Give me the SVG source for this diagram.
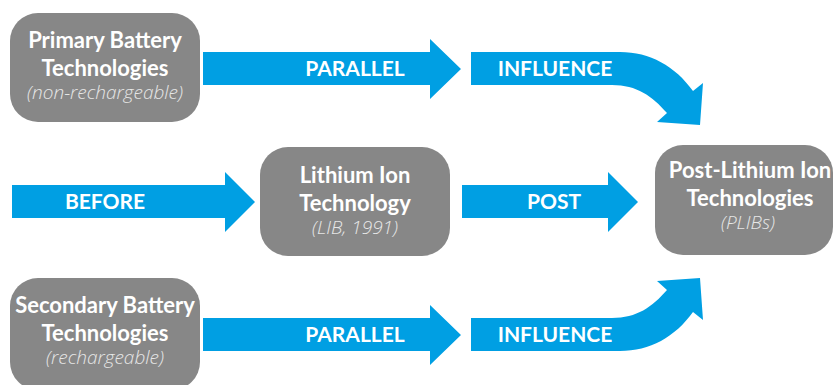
<svg xmlns="http://www.w3.org/2000/svg" width="835" height="385" viewBox="0 0 835 385">
  <style>
    .box { fill: #878787; }
    .arrow { fill: #009fe3; }
    .title { font-family: Lato, "Open Sans", sans-serif; font-weight: 700; font-size: 22px; fill: #ffffff; text-anchor: middle; }
    .sub { font-family: "Open Sans", Lato, sans-serif; font-weight: 300; font-style: italic; font-size: 19px; fill: #e6e6e6; text-anchor: middle; }
    .lbl { font-family: Lato, "Open Sans", sans-serif; font-weight: 700; font-size: 21px; fill: #ffffff; text-anchor: middle; }
  </style>
  <rect width="835" height="385" fill="#ffffff"/>

  <!-- connectors: block arrows with their labels -->
  <g id="connectors">
    <g id="arrow-parallel-top">
      <path class="arrow" d="M203,52 L430,52 L430,39 L461,69 L430,99 L430,85 L203,85 Z"/>
      <text class="lbl" x="355" y="76">PARALLEL</text>
    </g>
    <g id="arrow-influence-top">
      <path class="arrow" d="M471,52 L620,52 C650,52 675,66 693,91 L703,83 L700,125 L657,122 L667,113 C652,96 637,85 612,85 L471,85 Z"/>
      <text class="lbl" x="555" y="76">INFLUENCE</text>
    </g>
    <g id="arrow-before">
      <path class="arrow" d="M12,185 L225,185 L225,172 L255,202 L225,232 L225,218 L12,218 Z"/>
      <text class="lbl" x="105" y="209">BEFORE</text>
    </g>
    <g id="arrow-post">
      <path class="arrow" d="M462,185 L608,185 L608,172 L638,202 L608,232 L608,218 L462,218 Z"/>
      <text class="lbl" x="554" y="209">POST</text>
    </g>
    <g id="arrow-parallel-bottom">
      <path class="arrow" d="M203,318 L430,318 L430,305 L461,335 L430,365 L430,351 L203,351 Z"/>
      <text class="lbl" x="355" y="342">PARALLEL</text>
    </g>
    <g id="arrow-influence-bottom">
      <path class="arrow" d="M471,351 L620,351 C650,351 675,337 693,312 L703,320 L700,278 L657,281 L667,290 C652,307 637,318 612,318 L471,318 Z"/>
      <text class="lbl" x="555" y="342">INFLUENCE</text>
    </g>
  </g>

  <!-- technology nodes -->
  <g id="node-primary">
    <rect class="box" x="10" y="13" width="190" height="109" rx="28"/>
    <text class="title" x="105" y="48">Primary Battery</text>
    <text class="title" x="105" y="76">Technologies</text>
    <text class="sub" x="105" y="99">(non-rechargeable)</text>
  </g>
  <g id="node-lithium">
    <rect class="box" x="260" y="147" width="190" height="109" rx="28"/>
    <text class="title" x="355" y="183">Lithium Ion</text>
    <text class="title" x="355" y="211">Technology</text>
    <text class="sub" x="355" y="234">(LIB, 1991)</text>
  </g>
  <g id="node-post-lithium">
    <rect class="box" x="655" y="145" width="178" height="110" rx="28"/>
    <text class="title" x="750" y="178" font-size="21.5">Post-Lithium Ion</text>
    <text class="title" x="750" y="206">Technologies</text>
    <text class="sub" x="748" y="229">(PLIBs)</text>
  </g>
  <g id="node-secondary">
    <rect class="box" x="10" y="278" width="190" height="112" rx="28"/>
    <text class="title" x="105" y="313">Secondary Battery</text>
    <text class="title" x="105" y="341">Technologies</text>
    <text class="sub" x="105" y="364">(rechargeable)</text>
  </g>
</svg>
